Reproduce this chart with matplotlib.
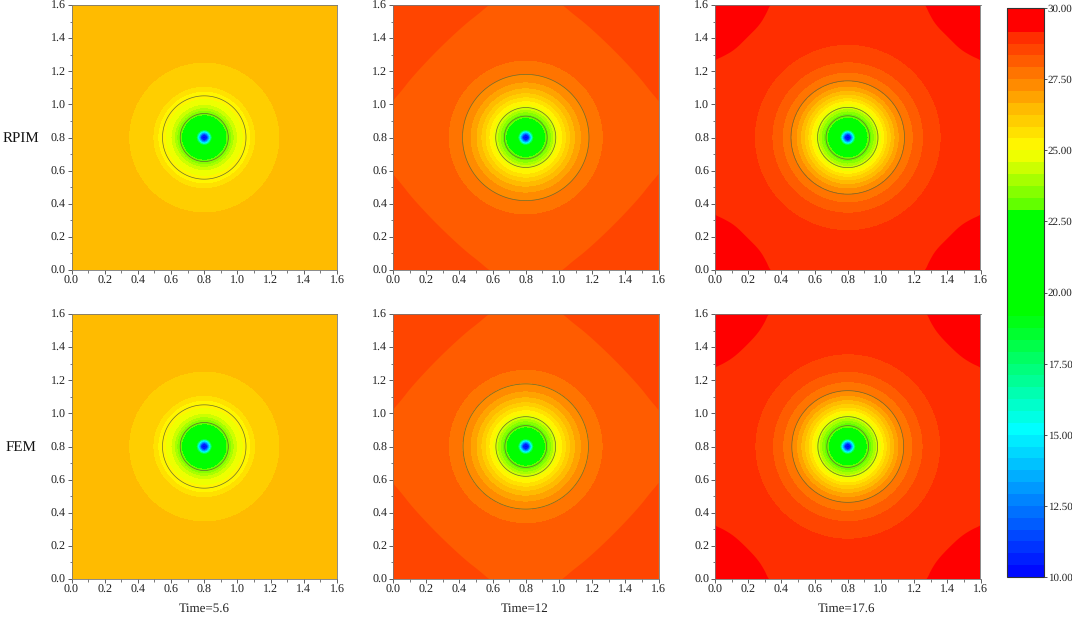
import numpy as np
import matplotlib
matplotlib.use("Agg")
import matplotlib.pyplot as plt
from matplotlib.colors import LinearSegmentedColormap, BoundaryNorm
from matplotlib.ticker import MultipleLocator

plt.rcParams['font.family'] = ['Liberation Serif', 'DejaVu Serif']
plt.rcParams['text.hinting'] = 'none'
plt.rcParams['text.hinting_factor'] = 1

# ---------- data ----------
row_labels = ["RPIM", "FEM"]
time_labels = ["Time=5.6", "Time=12", "Time=17.6"]
cbar_ticks = [10, 12.5, 15, 17.5, 20, 22.5, 25, 27.5, 30]
n_bands = 48

# colour anchors (temperature, rgb)
cmap_T = [10, 15.2, 19.3, 22.9, 23.1, 25.0, 26.46, 29.17, 29.2, 30]
cmap_R = [0, 0, 0, 0, 95, 255, 255, 255, 255, 255]
cmap_G = [0, 255, 255, 255, 255, 255, 187, 34, 0, 0]
cmap_B = [255, 255, 0, 0, 0, 0, 0, 0, 0, 0]

# core of every panel: radius -> temperature
core_r = [0.0, 0.018, 0.025, 0.032, 0.038, 0.042, 0.05]
core_T = [10.0, 10.8, 12.5, 14.2, 15.5, 17.0, 19.2]

# band edge temperatures from green up to the outside
edge_T = [22.92, 23.33, 23.75, 24.17, 24.58, 25.0, 25.42, 25.83, 26.25,
          26.67, 27.08, 27.5, 27.92, 28.33, 28.75]

# radius at which each edge is crossed, per panel (row, column)
radii_r0c0 = [.137, .150, .165, .180, .200, .235, .280, .308, .456]
radii_r0c1 = [.120, .140, .155, .170, .185, .200, .222, .245, .270, .300, .335, .385, .468]
radii_r0c2 = [.122, .145, .160, .175, .190, .205, .222, .240, .262, .285, .310, .342, .395, .456, .563]
radii_r1c0 = [.137, .150, .165, .180, .200, .235, .280, .308, .456]
radii_r1c1 = [.118, .140, .155, .170, .185, .200, .222, .245, .270, .300, .335, .385, .467]
radii_r1c2 = [.117, .143, .158, .173, .188, .203, .220, .238, .260, .283, .308, .338, .392, .453, .560]

# temperature outside the last ring, per column
outer_T = [26.46, 28.125, 28.96]

# black contour radii
lines_r0c0 = [.145, .2515]
lines_r0c1 = [.129, .181, .381]
lines_r0c2 = [.131, .182, .342]
lines_r1c0 = [.145, .2515]
lines_r1c1 = [.126, .180, .378]
lines_r1c2 = [.126, .180, .337]

# corner band outlines (distance from the two walls), per column
corner_T = [None, 28.54, 29.375]
corner_u_c1 = [0.0, .015, .05, .12, .27, .43, .52, .56, .58]
corner_v_c1 = [.58, .56, .52, .43, .27, .12, .05, .015, 0.0]
corner_u_c2_top = [0.0, .015, .05, .12, .195, .27, .31, .325, .335]
corner_v_c2_top = [.335, .325, .31, .27, .195, .12, .05, .015, 0.0]
corner_u_c2_bot = [0.0, .015, .05, .115, .19, .26, .30, .315, .325]
corner_v_c2_bot = [.325, .315, .30, .26, .19, .115, .05, .015, 0.0]

radii = [[radii_r0c0, radii_r0c1, radii_r0c2], [radii_r1c0, radii_r1c1, radii_r1c2]]
lines = [[lines_r0c0, lines_r0c1, lines_r0c2], [lines_r1c0, lines_r1c1, lines_r1c2]]
corners = [[None, (corner_u_c1, corner_v_c1), (corner_u_c2_top, corner_v_c2_top)],
           [None, (corner_u_c1, corner_v_c1), (corner_u_c2_bot, corner_v_c2_bot)]]

# ---------- colour scale ----------
levels = np.linspace(10, 30, n_bands + 1)
pos = (np.array(cmap_T) - 10) / 20
cmap_smooth = LinearSegmentedColormap(
    'field', {
        'red': [(p, v / 255, v / 255) for p, v in zip(pos, cmap_R)],
        'green': [(p, v / 255, v / 255) for p, v in zip(pos, cmap_G)],
        'blue': [(p, v / 255, v / 255) for p, v in zip(pos, cmap_B)],
    }, N=1024)
centres = (levels[:-1] + levels[1:]) / 2
band_cols = [cmap_smooth((c - 10) / 20) for c in centres]
cmap = matplotlib.colors.ListedColormap(band_cols)
norm = BoundaryNorm(levels, cmap.N)

# ---------- layout ----------
W, H = 1072, 618
fig = plt.figure(figsize=(W / 100, H / 100), dpi=100)
lefts = [71.5, 393, 715]
tops = [5, 314]
size_w, size_h = 265.5, 265


def style(ax):
    ax.set_xlim(0, 1.6)
    ax.set_ylim(0, 1.6)
    ax.xaxis.set_major_locator(MultipleLocator(0.2))
    ax.yaxis.set_major_locator(MultipleLocator(0.2))
    ax.xaxis.set_minor_locator(MultipleLocator(0.1))
    ax.yaxis.set_minor_locator(MultipleLocator(0.1))
    ax.tick_params(which='major', length=3, width=0.6, color='#444444',
                   labelsize=8.5, pad=1.2, labelcolor='#222222')
    ax.tick_params(which='minor', length=1.8, width=0.5, color='#444444')
    for s in ax.spines.values():
        s.set_linewidth(0.6)
        s.set_color('#777777')


def smooth(u, v, passes=2):
    # corner cutting that keeps the two end points on the walls
    p = np.column_stack([u, v])
    for _ in range(passes):
        q = 0.75 * p[:-1] + 0.25 * p[1:]
        r = 0.25 * p[:-1] + 0.75 * p[1:]
        mid = np.empty((2 * len(q), 2))
        mid[0::2] = q
        mid[1::2] = r
        p = np.vstack([p[0], mid, p[-1]])
    return p[:, 0], p[:, 1]


x = np.linspace(0, 1.6, 1301)
X, Y = np.meshgrid(x, x)
R = np.hypot(X - 0.8, Y - 0.8)
cf_last = None
for i in range(2):
    for j in range(3):
        ax = fig.add_axes([lefts[j] / W, 1 - (tops[i] + size_h) / H, size_w / W, size_h / H])
        kn_r = list(core_r) + list(radii[i][j])
        kn_T = list(core_T) + list(edge_T[:len(radii[i][j])])
        kn_r.append(radii[i][j][-1] + 0.004)
        kn_T.append(outer_T[j])
        T = np.interp(R, kn_r, kn_T)
        cf = ax.contourf(X, Y, T, levels=levels, cmap=cmap, norm=norm)
        cf_last = cf
        if corners[i][j] is not None:
            u, v = smooth(corners[i][j][0], corners[i][j][1])
            col = cmap(norm(corner_T[j]))
            for cx, sx in ((0, 1), (1.6, -1)):
                for cy, sy in ((0, 1), (1.6, -1)):
                    px = np.r_[cx, cx + sx * u]
                    py = np.r_[cy, cy + sy * v]
                    ax.fill(px, py, color=col, lw=0, zorder=2)
        ax.contour(X, Y, R, levels=lines[i][j], colors='#6a6a30', linewidths=0.5, zorder=3)
        style(ax)

# ---------- colour bar ----------
cax = fig.add_axes([1007 / W, 1 - 577 / H, 36.5 / W, 569 / H])
cb = fig.colorbar(cf_last, cax=cax, ticks=cbar_ticks, format='%.2f', spacing='proportional')
cb.ax.tick_params(length=2, width=0.6, labelsize=8, pad=1, color='#333333', labelcolor='#222222')
cb.ax.minorticks_off()
cb.outline.set_linewidth(0.8)
cb.outline.set_edgecolor('#333333')

# ---------- texts ----------
for lab, y in zip(row_labels, [138, 447]):
    fig.text(21 / W, 1 - y / H, lab, ha='center', va='center', fontsize=11, color='#111111')
for lab, xc in zip(time_labels, [204, 525, 847]):
    fig.text(xc / W, 1 - 609 / H, lab, ha='center', va='center', fontsize=9.5, color='#222222')

fig.savefig('out.png', dpi=100)
